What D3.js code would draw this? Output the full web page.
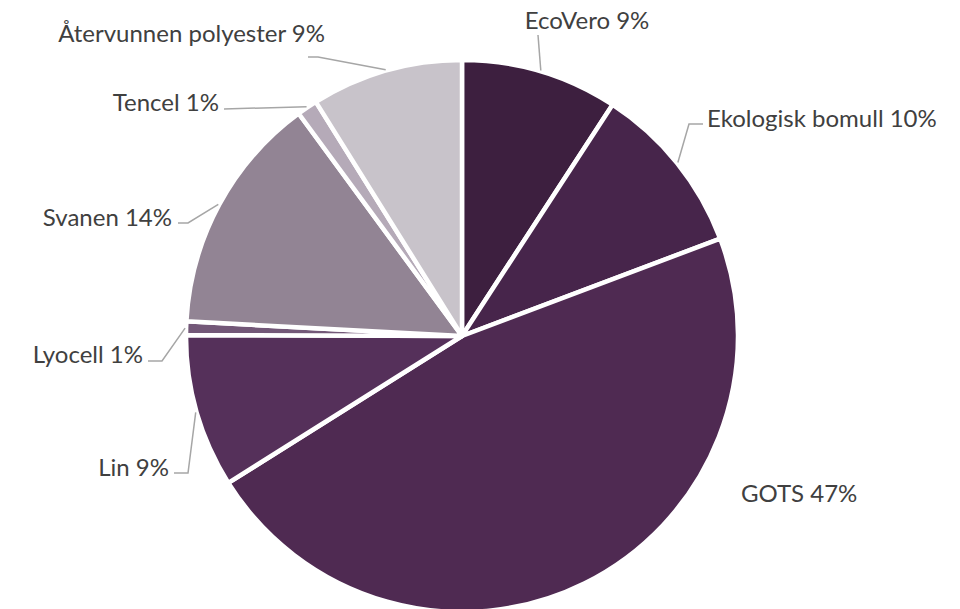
<!DOCTYPE html>
<html><head><meta charset="utf-8">
<script src="https://cdn.jsdelivr.net/npm/d3@7"></script>
<style>body{margin:0;background:#fff}svg{display:block}</style>
</head><body>
<svg id="c" width="960" height="609"></svg>
<script>
// Data
const categories = ["EcoVero", "Ekologisk bomull", "GOTS", "Lin", "Lyocell", "Svanen", "Tencel", "Återvunnen polyester"];
const values = [9.2, 10.1, 46.9, 9.0, 0.8, 14.1, 1.2, 8.9];
const pctLabels = ["9%", "10%", "47%", "9%", "1%", "14%", "1%", "9%"];
const colors = ["#3d1f3f", "#47254b", "#4f2a52", "#55305a", "#735878", "#928494", "#b5aab8", "#c8c3ca"];

// Layout (label placement)
const labelLayout = [
  {x: 587, y: 29, anchor: "middle", elbow: [[538, 35]]},
  {x: 707, y: 127, anchor: "start", elbow: [[703, 124], [689, 124]]},
  {x: 741, y: 502, anchor: "start", elbow: null},
  {x: 169, y: 476, anchor: "end", elbow: [[174, 473], [188, 473]]},
  {x: 143, y: 363, anchor: "end", elbow: [[148, 361], [162, 361]]},
  {x: 172, y: 226, anchor: "end", elbow: [[178, 223], [188, 223]]},
  {x: 219, y: 111, anchor: "end", elbow: [[224, 109]]},
  {x: 325, y: 42, anchor: "end", elbow: [[308, 57], [318, 57]]}
];

const svg = d3.select("#c");
const cx = 462, cy = 336, r = 276;
const g = svg.append("g").attr("transform", `translate(${cx},${cy})`);

const pie = d3.pie().sort(null).value(d => d.v);
const arcs = pie(categories.map((c, i) => ({c, v: values[i], i})));
const arc = d3.arc().innerRadius(0).outerRadius(r);

g.selectAll("path.slice").data(arcs).enter().append("path")
  .attr("class", "slice")
  .attr("d", arc)
  .attr("fill", d => colors[d.data.i])
  .attr("stroke", "#fff")
  .attr("stroke-width", 4.5)
  .attr("stroke-linejoin", "round");

// leader lines
const lineG = svg.append("g");
arcs.forEach(a => {
  const L = labelLayout[a.data.i];
  if (!L.elbow) return;
  const mid = (a.startAngle + a.endAngle) / 2;
  const px = cx + (r + 1) * Math.sin(mid);
  const py = cy - (r + 1) * Math.cos(mid);
  const pts = L.elbow.concat([[px, py]]);
  lineG.append("path")
    .attr("d", d3.line()(pts))
    .attr("fill", "none")
    .attr("stroke", "#a6a6a6")
    .attr("stroke-width", 1.5);
});

// labels
svg.append("g").selectAll("text").data(arcs).enter().append("text")
  .attr("x", d => labelLayout[d.data.i].x)
  .attr("y", d => labelLayout[d.data.i].y)
  .attr("text-anchor", d => labelLayout[d.data.i].anchor)
  .attr("font-family", "Lato, 'Open Sans', sans-serif")
  .attr("font-size", 24)
  .attr("fill", "#404040")
  .text(d => d.data.c + " " + pctLabels[d.data.i]);
</script>
</body></html>
